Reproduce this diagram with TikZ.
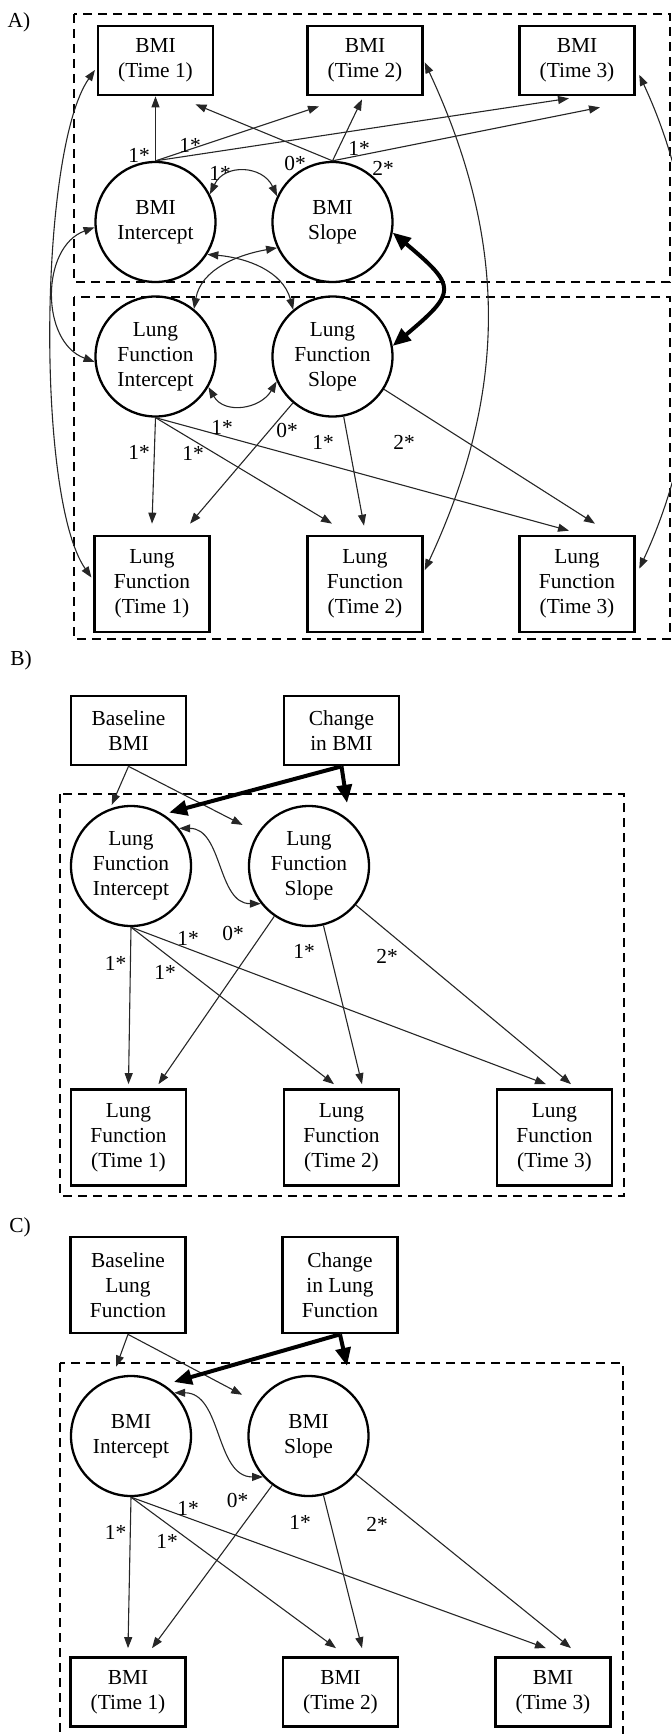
\documentclass[tikz,border=0pt]{standalone}
\usepackage{fontspec}
\setmainfont{Liberation Serif}
\usetikzlibrary{arrows.meta}

\begin{document}
\begin{tikzpicture}[x=0.5pt, y=-0.5pt,
		>={Triangle[length=5.5pt,width=4pt]},
		txt/.style={font=\fontsize{10.7}{12.5}\selectfont},
		obs/.style={txt, draw, rectangle, line width=1.35pt, minimum width=57.5pt, minimum height=34.5pt, align=center, inner sep=1pt},
		obs3/.style={obs, minimum height=48pt},
		lat/.style={txt, draw, circle, line width=1.15pt, minimum size=60pt, align=center, inner sep=0pt},
		grp/.style={dash pattern=on 4.5pt off 3pt, line width=0.9pt},
		pth/.style={->, line width=0.55pt, draw=black!85},
		cov/.style={<->, line width=0.55pt, draw=black!85},
		heavy/.style={-{Triangle[length=9pt,width=7.5pt]}, line width=2pt},
		heavycov/.style={{Triangle[length=9pt,width=7.5pt]}-{Triangle[length=9pt,width=7.5pt]}, line width=2pt},
		lbl/.style={txt, inner sep=0pt}]
	\useasboundingbox (0,0) rectangle (671,1734);

	% A)
	\node[txt] (tagA) at (19,22) {A)};
	\draw[grp] (74,14) rectangle (670,282);
	\draw[grp] (74,297) rectangle (670,639);
	\node[obs] (Abmi1) at (155.5,60.5) {BMI\\(Time 1)};
	\node[obs] (Abmi2) at (365,60.5) {BMI\\(Time 2)};
	\node[obs] (Abmi3) at (577,60.5) {BMI\\(Time 3)};
	\node[lat] (Abint) at (155.5,222) {BMI\\Intercept};
	\node[lat] (Abslp) at (332.5,222) {BMI\\Slope};
	\node[lat] (Alint) at (155.5,356.5) {Lung\\Function\\Intercept};
	\node[lat] (Alslp) at (332.5,356.5) {Lung\\Function\\Slope};
	\node[obs3] (Alf1) at (152,584) {Lung\\Function\\(Time 1)};
	\node[obs3] (Alf2) at (365,584) {Lung\\Function\\(Time 2)};
	\node[obs3] (Alf3) at (577,584) {Lung\\Function\\(Time 3)};

	\draw[pth] (Abint.north) -- (Abmi1.south);
	\draw[pth] (Abint.north) -- ([xshift=-23pt,yshift=-5pt]Abmi2.south);
	\draw[pth] (Abint.north) -- ([xshift=-4pt,yshift=-1pt]Abmi3.south);
	\draw[pth] (Abslp.north) -- ([xshift=20pt,yshift=-4pt]Abmi1.south);
	\draw[pth] (Abslp.north) -- ([xshift=-1.5pt,yshift=-1.5pt]Abmi2.south);
	\draw[pth] (Abslp.north) -- ([xshift=11.5pt,yshift=-5.5pt]Abmi3.south);
	\node[lbl] (la1) at (139,155) {1*};
	\node[lbl] (la2) at (190,145) {1*};
	\node[lbl] (la3) at (295,163) {0*};
	\node[lbl] (la4) at (359,148) {1*};
	\node[lbl] (la5) at (383,168) {2*};
	\node[lbl] (la6) at (220,173) {1*};

	\draw[cov] (Abint.27) to[out=65,in=115,looseness=1.3] (Abslp.155);
	\draw[cov] (Abint.-32) to[out=-5,in=105] (Alslp.130);
	\draw[cov] (Abslp.205) to[out=190,in=80] (Alint.51);
	\draw[cov] (Alint.-30) to[out=-60,in=-120,looseness=1.2] (Alslp.204);
	\draw[heavycov] (Abslp.-10) to[out=-40,in=40,looseness=1.9] (Alslp.10);
	\draw[cov] (Abint.185) to[out=200,in=160,looseness=1.1] (Alint.185);
	\draw[cov, shorten <=1.5pt, shorten >=1.5pt] ([yshift=-3.5pt]Abmi1.west) to[out=235,in=125,looseness=0.5] ([yshift=2pt]Alf1.west);
	\draw[cov, shorten <=1pt, shorten >=1pt] (Abmi2.east) to[out=-65,in=65,looseness=1] ([yshift=6pt]Alf2.east);
	\draw[cov, shorten <=4pt, shorten >=4pt] ([yshift=-3.5pt]Abmi3.east) to[out=-65,in=65,looseness=0.9] ([yshift=4pt]Alf3.east);

	\draw[pth] (Alint.south) -- ([yshift=5.5pt]Alf1.north);
	\draw[pth] (Alint.south) -- ([xshift=-16.5pt,yshift=5.5pt]Alf2.north);
	\draw[pth] (Alint.south) -- ([xshift=-4pt,yshift=2pt]Alf3.north);
	\draw[pth] (Alslp) -- ([xshift=19pt,yshift=5.5pt]Alf1.north);
	\draw[pth] (Alslp) -- ([xshift=-0.5pt,yshift=4.5pt]Alf2.north);
	\draw[pth] (Alslp) -- ([xshift=9pt,yshift=5.5pt]Alf3.north);
	\node[lbl] (la7) at (139,452) {1*};
	\node[lbl] (la8) at (193,453) {1*};
	\node[lbl] (la9) at (222,427) {1*};
	\node[lbl] (la10) at (287,430) {0*};
	\node[lbl] (la11) at (323,442) {1*};
	\node[lbl] (la12) at (404,442) {2*};

	% B)
	\node[txt] (tagB) at (21,660) {B)};
	\node[obs] (Bbase) at (128.5,730.5) {Baseline\\BMI};
	\node[obs] (Bchg) at (341.5,730.5) {Change\\in BMI};
	\draw[grp] (60,794) rectangle (624,1196);
	\node[lat] (Blint) at (131,866) {Lung\\Function\\Intercept};
	\node[lat] (Blslp) at (309,866) {Lung\\Function\\Slope};
	\node[obs3] (Blf1) at (128.5,1137.5) {Lung\\Function\\(Time 1)};
	\node[obs3] (Blf2) at (341.5,1137.5) {Lung\\Function\\(Time 2)};
	\node[obs3] (Blf3) at (554.5,1137.5) {Lung\\Function\\(Time 3)};

	\draw[pth, shorten >=2pt] (Bbase.south) -- (Blint.110);
	\draw[pth, shorten >=8.5pt] (Bbase.south) -- (Blslp.147);
	\draw[heavy, shorten >=3pt] (Bchg.south) -- (Blint.58);
	\draw[heavy] (Bchg.south) -- ([xshift=19pt,yshift=1pt]Blslp.north);
	\draw[cov] (Blint.38) to[out=0,in=180] (Blslp.218);

	\draw[pth] (Blint.south) -- ([yshift=2pt]Blf1.north);
	\draw[pth] (Blint.south) -- ([xshift=-3.75pt,yshift=2pt]Blf2.north);
	\draw[pth] (Blint.south) -- ([xshift=-4.25pt,yshift=2pt]Blf3.north);
	\draw[pth] (Blslp) -- ([xshift=15pt,yshift=2pt]Blf1.north);
	\draw[pth] (Blslp) -- ([xshift=10.25pt,yshift=2pt]Blf2.north);
	\draw[pth] (Blslp) -- ([xshift=8.25pt,yshift=2pt]Blf3.north);
	\node[lbl] (lb1) at (115.5,963) {1*};
	\node[lbl] (lb2) at (165,972) {1*};
	\node[lbl] (lb3) at (188,938) {1*};
	\node[lbl] (lb4) at (233,933) {0*};
	\node[lbl] (lb5) at (304,951) {1*};
	\node[lbl] (lb6) at (387,956) {2*};

	% C)
	\node[txt] (tagC) at (20,1227) {C)};
	\node[obs3] (Cbase) at (128,1285) {Baseline\\Lung\\Function};
	\node[obs3] (Cchg) at (340,1285) {Change\\in Lung\\Function};
	\draw[grp] (60,1363) rectangle (623,1740);
	\node[lat] (Cbint) at (131,1436) {BMI\\Intercept};
	\node[lat] (Cbslp) at (308.5,1436) {BMI\\Slope};
	\node[obs] (Cbmi1) at (128,1692) {BMI\\(Time 1)};
	\node[obs] (Cbmi2) at (340.5,1692) {BMI\\(Time 2)};
	\node[obs] (Cbmi3) at (553,1692) {BMI\\(Time 3)};

	\draw[pth, shorten >=6pt] (Cbase.south) -- (Cbint.108);
	\draw[pth, shorten >=8.5pt] (Cbase.south) -- (Cbslp.147);
	\draw[heavy, shorten >=5pt] (Cchg.south) -- (Cbint.57);
	\draw[heavy] (Cchg.south) -- ([xshift=19.25pt,yshift=4.5pt]Cbslp.north);
	\draw[cov] (Cbint.45) to[out=0,in=180] (Cbslp.222);

	\draw[pth] (Cbint.south) -- ([yshift=4pt]Cbmi1.north);
	\draw[pth] (Cbint.south) -- ([xshift=-2.25pt,yshift=4pt]Cbmi2.north);
	\draw[pth] (Cbint.south) -- ([xshift=-3.5pt,yshift=4pt]Cbmi3.north);
	\draw[pth] (Cbslp) -- ([xshift=12pt,yshift=4pt]Cbmi1.north);
	\draw[pth] (Cbslp) -- ([xshift=10.75pt,yshift=4pt]Cbmi2.north);
	\draw[pth] (Cbslp) -- ([xshift=9pt,yshift=4pt]Cbmi3.north);
	\node[lbl] (lc1) at (115.5,1532) {1*};
	\node[lbl] (lc2) at (167,1541) {1*};
	\node[lbl] (lc3) at (188,1508) {1*};
	\node[lbl] (lc4) at (237.5,1500) {0*};
	\node[lbl] (lc5) at (300,1522) {1*};
	\node[lbl] (lc6) at (377,1524) {2*};
\end{tikzpicture}
\end{document}
